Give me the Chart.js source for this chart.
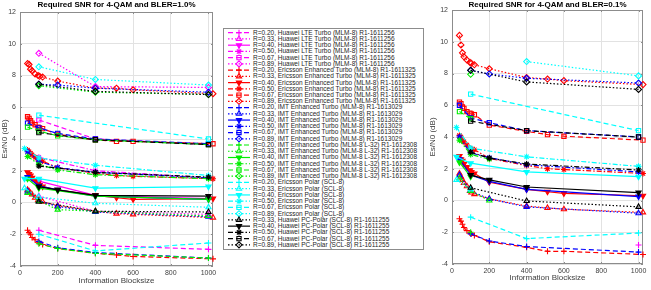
<!DOCTYPE html>
<html>
<head>
<meta charset="utf-8">
<script src="https://cdn.jsdelivr.net/npm/chart.js"></script>
<style>
  html, body { margin: 0; padding: 0; background: #fff; }
  body { width: 651px; height: 290px; position: relative; overflow: hidden; font-family: 'Liberation Sans', Arial, sans-serif; }
  canvas { position: absolute; top: 0; }
  #legend { position: absolute; left: 223px; top: 28px; width: 201px; height: 222px; border: 1px solid #8c8c8c; box-sizing: border-box; background: #fff; }
  #legendMarks { left: 0; top: 0; }
  .legend-row { position: absolute; left: 29px; font-size: 6.5px; line-height: 6.24px; height: 6.24px; color: #262626; white-space: nowrap; }
</style>
</head>
<body>
<canvas id="chartLeft" width="224" height="290" style="left:0"></canvas>
<canvas id="chartRight" width="223" height="290" style="left:428px"></canvas>
<div id="legend"><canvas id="legendMarks" width="28" height="220"></canvas></div>
<script>
const rates = ['0.20', '0.33', '0.40', '0.50', '0.67', '0.89'];
const schemes = [
    'Huawei LTE Turbo (MLM-8) R1-1611256',
    'Ericsson Enhanced Turbo (MLM-8) R1-1611325',
    'IMT Enhanced Turbo (MLM-8) R1-1613029',
    'IMT Enhanced Turbo (MLM-8 L-32) R1-1612308',
    'Ericsson Polar (SCL-8)',
    'Huawei PC-Polar (SCL-8) R1-1611255'
];
const xTicks = [0, 200, 400, 600, 800, 1000];
const yTicks = [-4, -2, 0, 2, 4, 6, 8, 10, 12];

// information block sizes of each scheme
const kHuaweiTurbo = [100, 400, 1000];
const kEricssonTurbo = [40, 48, 56, 64, 80, 96, 104, 120, 200, 400, 512, 600, 1024];
const kImtTurbo = [40, 100, 200, 400, 1000];
const kImtL32 = [40, 100, 200, 400, 1000];
const kEricssonPolar = [24, 100, 400, 1000];
const kHuaweiPolar = [100, 200, 400, 1000];

// Es/N0 (dB), one row per rate, null = no point
const huaweiTurbo1 = [
    [-1.75, -2.7, -2.95],
    [0.4, -0.55, -0.75],
    [1.35, 0.45, 0.25],
    [2.85, 2.0, 1.55],
    [5.2, 4.0, 3.65],
    [9.4, 7.3, 7.25]
];
const huaweiTurbo01 = [
    [null, null, -2.8],
    null, null, null, null, null
];

const ericssonTurbo1 = [
    [-1.75, -1.9, -2.0, -2.2, -2.35, -2.5, -2.55, -2.65, -2.9, -3.2, -3.3, -3.4, -3.55],
    [0.8, 0.7, 0.6, 0.5, 0.3, 0.15, 0.1, 0.05, -0.2, -0.55, -0.7, -0.75, -0.95],
    [1.9, 1.8, 1.7, 1.55, 1.4, 1.2, 1.1, 1.0, 0.8, 0.45, 0.3, 0.2, 0.25],
    [3.3, 3.2, 3.1, 3.0, 2.85, 2.7, 2.65, 2.6, 2.2, 1.85, 1.7, 1.65, 1.5],
    [5.4, 5.3, 5.15, 5.0, 4.9, 4.75, 4.7, 4.65, 4.3, 3.95, 3.85, 3.85, 3.7],
    [8.75, 8.7, 8.4, 8.3, 8.1, 8.0, 7.95, 7.9, 7.65, 7.2, 7.2, 7.1, 6.85]
];
const ericssonTurbo01 = [
    [-1.15, -1.3, -1.5, -1.7, -1.9, -2.05, -2.1, -2.2, -2.6, -2.95, -3.2, -3.2, -3.4],
    [1.7, 1.5, 1.3, 1.1, 0.9, 0.6, 0.5, 0.4, 0.1, -0.35, -0.47, -0.55, -0.75],
    [2.8, 2.6, 2.5, 2.3, 2.1, 1.9, 1.8, 1.7, 1.15, 0.7, 0.55, 0.45, 0.3],
    [4.1, 4.0, 3.8, 3.7, 3.5, 3.3, 3.25, 3.2, 2.65, 2.2, 2.0, 1.95, 1.7],
    [6.2, 6.1, 5.9, 5.8, 5.6, 5.5, 5.45, 5.4, 4.75, 4.35, 4.15, 4.05, 3.8],
    [10.4, 9.8, 9.3, 9.05, 8.85, 8.7, 8.65, 8.55, 8.3, 7.75, 7.65, 7.55, 7.3]
];

const imtTurbo1 = [
    [null, -2.45, -2.85, -3.15, -3.5],
    [0.7, 0.1, -0.25, -0.6, -0.9],
    [1.6, 1.05, 0.8, 0.4, 0.2],
    [3.2, 2.6, 2.2, 1.9, 1.55],
    [5.0, 4.7, 4.35, 4.0, 3.7],
    [null, 7.45, 7.4, 7.2, 6.95]
];
const imtTurbo01 = [
    [null, -2.1, -2.55, -2.9, -3.25],
    [1.6, 0.6, 0.1, -0.4, -0.8],
    [2.6, 1.6, 1.2, 0.7, 0.25],
    [4.0, 3.0, 2.7, 2.25, 1.8],
    [6.0, 5.2, 4.9, 4.4, 4.0],
    [null, 8.2, 7.97, 7.7, 7.4]
];

const imtL32_1 = [
    [null, -2.6, -2.9, -3.2, -3.5],
    [0.6, 0.1, -0.45, -0.55, -0.85],
    [1.5, 0.9, 0.75, 0.4, 0.2],
    [2.9, 2.4, 2.05, 1.75, 1.5],
    [4.75, 4.5, 4.2, 3.95, 3.65],
    [null, 7.35, null, 6.95, 6.8]
];
const imtL32_01 = [
    [null, -2.0, null, null, null],
    [1.4, 0.6, 0.0, null, null],
    [2.4, 1.5, null, null, null],
    [3.8, 2.9, 2.6, null, null],
    [5.6, 5.15, null, null, null],
    [null, 7.95, null, null, null]
];

const ericssonPolar1 = [
    [null, -2.0, -3.05, -2.55],
    [0.9, 0.35, -0.05, -0.3],
    [1.5, 1.5, 0.9, 1.0],
    [3.4, 2.8, 2.35, 1.7],
    [null, 5.5, null, 4.0],
    [null, 8.55, 7.75, 7.4]
];
const ericssonPolar01 = [
    [null, -1.05, -2.4, -2.05],
    [1.3, 0.7, null, null],
    [2.75, 2.35, 1.8, 1.5],
    [4.6, 3.3, 2.75, 2.15],
    [null, 6.7, null, 4.4],
    [null, null, 8.75, 7.85]
];

const huaweiPolar1 = [
    null,
    [0.05, null, -0.55, -0.6],
    [1.0, 0.8, 0.45, 0.4],
    [2.3, null, 1.9, 1.6],
    [4.4, null, 3.95, 3.65],
    [7.45, null, 7.0, 6.8]
];
const huaweiPolar01 = [
    null,
    [0.8, null, -0.03, -0.4],
    [1.6, 1.3, 0.85, 0.5],
    [3.05, 2.67, 2.3, 1.92],
    [5.0, null, 4.4, 4.0],
    [8.2, null, 7.47, 7.0]
];

const blockSizes = [kHuaweiTurbo, kEricssonTurbo, kImtTurbo, kImtL32, kEricssonPolar, kHuaweiPolar];
const tablesBler1 = [huaweiTurbo1, ericssonTurbo1, imtTurbo1, imtL32_1, ericssonPolar1, huaweiPolar1];
const tablesBler01 = [huaweiTurbo01, ericssonTurbo01, imtTurbo01, imtL32_01, ericssonPolar01, huaweiPolar01];

// matlab colours per scheme, line/marker per rate
const schemeColors = ['#ff00ff', '#ff0000', '#0000ff', '#00ee00', '#00ffff', '#000000'];
const rateStyles = [
    { dash: [5, 3], point: 'cross', rotation: 0, fill: false },
    { dash: [1.5, 2], point: 'triangle', rotation: 0, fill: false },
    { dash: [], point: 'triangle', rotation: 180, fill: true },
    { dash: [5, 2, 1.5, 2], point: 'star', rotation: 0, fill: true },
    { dash: [5, 3], point: 'rect', rotation: 0, fill: false },
    { dash: [1.5, 2], point: 'rectRot', rotation: 0, fill: false }
];

function buildDatasets(tables) {
    const datasets = [];
    schemes.forEach((scheme, s) => {
        rates.forEach((rate, r) => {
            const row = tables[s][r];
            if (!row) return;
            const points = [];
            row.forEach((v, i) => {
                if (v !== null) points.push({ x: blockSizes[s][i], y: v });
            });
            const st = rateStyles[r];
            datasets.push({
                label: `R=${rate}, ${scheme}`,
                data: points,
                borderColor: schemeColors[s],
                borderWidth: 1.2,
                borderDash: st.dash,
                pointStyle: st.point,
                pointRotation: st.rotation,
                pointRadius: 3,
                pointBorderWidth: 1.1,
                pointBorderColor: schemeColors[s],
                pointBackgroundColor: st.fill ? schemeColors[s] : 'rgba(0,0,0,0)',
                tension: 0,
                clip: false,
                order: -datasets.length
            });
        });
    });
    return datasets;
}

// box round the plot area with small inward ticks
const boxPlugin = {
    id: 'matlabBox',
    beforeDatasetsDraw(chart) {
        const { ctx, chartArea: a, scales } = chart;
        ctx.save();
        ctx.strokeStyle = '#8c8c8c';
        ctx.lineWidth = 1;
        ctx.strokeRect(Math.round(a.left) + 0.5, Math.round(a.top) + 0.5,
            Math.round(a.right - a.left) - 1, Math.round(a.bottom - a.top) - 1);
        ctx.beginPath();
        xTicks.forEach(v => {
            const px = Math.round(scales.x.getPixelForValue(v)) + 0.5;
            ctx.moveTo(px, a.bottom); ctx.lineTo(px, a.bottom - 2);
            ctx.moveTo(px, a.top); ctx.lineTo(px, a.top + 2);
        });
        yTicks.forEach(v => {
            const py = Math.round(scales.y.getPixelForValue(v)) + 0.5;
            ctx.moveTo(a.left, py); ctx.lineTo(a.left + 2, py);
            ctx.moveTo(a.right, py); ctx.lineTo(a.right - 2, py);
        });
        ctx.stroke();
        ctx.restore();
    }
};

function createSnrChart(id, tables, titleText, dims) {
    const canvas = document.getElementById(id);
    return new Chart(canvas.getContext('2d'), {
        type: 'line',
        data: { datasets: buildDatasets(tables) },
        options: {
            responsive: false,
            animation: false,
            layout: { padding: { left: 0, right: dims.right, top: 0, bottom: 0 } },
            plugins: {
                legend: { display: false },
                tooltip: { enabled: false },
                title: {
                    display: true,
                    text: titleText,
                    fullSize: false,
                    color: '#000',
                    font: { family: 'Liberation Sans', size: 8, weight: 'bold' },
                    padding: { top: 0, bottom: dims.top - 9.6 }
                }
            },
            scales: {
                x: {
                    type: 'linear',
                    min: 0,
                    max: 1024,
                    afterBuildTicks: scale => { scale.ticks = xTicks.map(v => ({ value: v })); },
                    afterFit: scale => { scale.height = dims.xHeight; },
                    grid: { color: '#e2e2e2', drawTicks: false },
                    border: { display: false },
                    ticks: { padding: 3, color: '#404040', maxRotation: 0, autoSkip: false,
                        callback: value => String(value),
                        font: { family: 'Liberation Sans', size: 7 } },
                    title: { display: true, text: 'Information Blocksize', color: '#404040',
                        font: { family: 'Liberation Sans', size: 8 },
                        padding: { top: 0, bottom: dims.titleBottom } }
                },
                y: {
                    min: -4,
                    max: 12,
                    afterBuildTicks: scale => { scale.ticks = yTicks.map(v => ({ value: v })); },
                    afterFit: scale => { scale.width = dims.yWidth; },
                    grid: { color: '#e2e2e2', drawTicks: false },
                    border: { display: false },
                    ticks: { padding: 4, color: '#404040',
                        callback: value => String(value),
                        font: { family: 'Liberation Sans', size: 7 } },
                    title: { display: true, text: 'Es/N0 (dB)', color: '#404040',
                        font: { family: 'Liberation Sans', size: 8 },
                        padding: { top: 0, bottom: 0 } }
                }
            }
        },
        plugins: [boxPlugin]
    });
}

createSnrChart('chartLeft', tablesBler1, 'Required SNR for 4-QAM and BLER=1.0%',
    { right: 11, top: 12, xHeight: 24, yWidth: 20, titleBottom: 4 });
createSnrChart('chartRight', tablesBler01, 'Required SNR for 4-QAM and BLER=0.1%',
    { right: 8, top: 10, xHeight: 26, yWidth: 24, titleBottom: 7 });

// legend: swatches on a small canvas, labels as text
function buildLegend() {
    const box = document.getElementById('legend');
    const ctx = document.getElementById('legendMarks').getContext('2d');
    let row = 0;
    schemes.forEach((scheme, s) => {
        rates.forEach((rate, r) => {
            if (!tablesBler1[s][r]) return;
            const st = rateStyles[r];
            const cy = 3.7 + row * 6.24;
            ctx.save();
            ctx.strokeStyle = schemeColors[s];
            ctx.fillStyle = st.fill ? schemeColors[s] : 'rgba(0,0,0,0)';
            ctx.lineWidth = 1.2;
            ctx.setLineDash(st.dash);
            ctx.beginPath();
            ctx.moveTo(4, cy);
            ctx.lineTo(26, cy);
            ctx.stroke();
            ctx.setLineDash([]);
            ctx.lineWidth = 1.1;
            Chart.helpers.drawPoint(ctx, { pointStyle: st.point, rotation: st.rotation, radius: 3, borderWidth: 1.1 }, 15, cy);
            ctx.restore();

            const label = document.createElement('div');
            label.className = 'legend-row';
            label.style.top = (cy - 3.12) + 'px';
            label.textContent = `R=${rate}, ${scheme}`;
            box.appendChild(label);
            row++;
        });
    });
}
buildLegend();
</script>
</body>
</html>
